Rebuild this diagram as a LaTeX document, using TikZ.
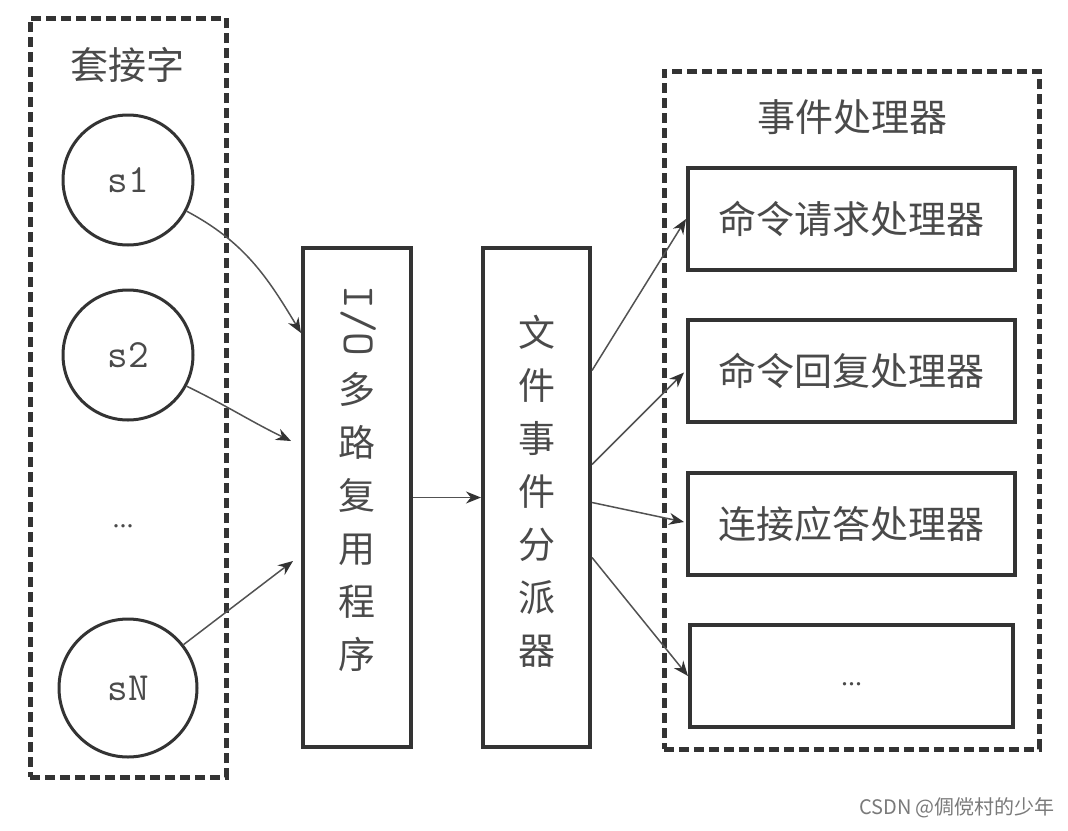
\documentclass[tikz,border=0pt]{standalone}
\usepackage{fontspec}
\setmainfont{Liberation Serif}
\newfontfamily\cjk{Noto Sans CJK SC}
\usetikzlibrary{arrows.meta,calc}
\definecolor{ink}{HTML}{333333}
\definecolor{txt}{HTML}{4A4A4A}
\definecolor{wmgray}{HTML}{7A7A7A}
\begin{document}
\begin{tikzpicture}[x=1pt,y=-1pt,
  dashbox/.style={draw=ink, line width=5pt, dash pattern=on 10pt off 5pt, rectangle, inner sep=0pt},
  solidbox/.style={draw=ink, line width=4pt, rectangle, inner sep=0pt, fill=white},
  sock/.style={draw=ink, line width=3pt, circle, inner sep=0pt, font=\ttfamily\fontsize{40}{40}\selectfont, text=txt},
  conn/.style={draw=ink!85, line width=1.5pt, -{Stealth[length=15pt,width=12pt,color=ink]}},
  cjktext/.style={font=\cjk\fontsize{38}{38}\selectfont, text=txt},
  vtext/.style={font=\cjk\fontsize{37}{53}\selectfont, text=txt, align=center, inner sep=0pt},
  dots/.style={font=\fontsize{28}{28}\selectfont, text=txt, inner sep=0pt},
]
\useasboundingbox[fill=white] (0,0) rectangle (1068,830);

% group boxes
\node[dashbox, minimum width=196pt, minimum height=759pt] (sockets) at (128,397.5) {};
\node[dashbox, minimum width=375pt, minimum height=678pt] (handlers) at (851.5,410) {};
\node[cjktext] (socktitle) at (127,65) {套接字};
\node[cjktext] (handtitle) at (852,117) {事件处理器};

% sockets
\node[sock, minimum size=130pt] (s1) at (128,180) {s1};
\node[sock, minimum size=130pt] (s2) at (128,355) {s2};
\node[dots] (sdots) at (123,526) {...};
\node[sock, minimum size=138pt] (sN) at (128,688) {sN};

% I/O multiplexer
\node[solidbox, minimum width=108pt, minimum height=499pt] (io) at (357,497.5) {};
\node[rotate=-90, font=\ttfamily\fontsize{46}{46}\selectfont, text=txt, inner sep=0pt] (iolbl) at (359,321) {I/O};
\node[vtext] (iotxt) at (357,521.5) {多\\路\\复\\用\\程\\序};

% dispatcher
\node[solidbox, minimum width=107pt, minimum height=499pt] (disp) at (536.5,497.5) {};
\node[vtext] (disptxt) at (536.5,491) {文\\件\\事\\件\\分\\派\\器};

% handlers
\node[solidbox, cjktext, minimum width=327pt, minimum height=102pt] (h1) at (851.5,219) {命令请求处理器};
\node[solidbox, cjktext, minimum width=327pt, minimum height=102pt] (h2) at (851.5,370.5) {命令回复处理器};
\node[solidbox, cjktext, minimum width=327pt, minimum height=102pt] (h3) at (851.5,524) {连接应答处理器};
\node[solidbox, minimum width=323pt, minimum height=102pt] (h4) at (851.5,676) {};
\node[dots] (hdots) at (851.5,684) {...};

% connectors
\draw[conn] (s1.-28) to[out=-28,in=121] ([yshift=-87pt]io.north west);
\draw[conn] (s2.-28) to[out=-26,in=154] ([xshift=-10pt,yshift=-195pt]io.north west);
\draw[conn] (sN.38) -- ([xshift=-8pt,yshift=-315pt]io.north west);
\draw[conn] (io.east) -- (disp.west);
\draw[conn] ([yshift=127pt]disp.east) -- (h1.west);
\draw[conn] ([yshift=33pt]disp.east) -- ([xshift=-2pt,yshift=-2pt]h2.west);
\draw[conn] ([yshift=-5pt]disp.east) -- ([xshift=-2pt,yshift=2pt]h3.west);
\draw[conn] ([yshift=-60pt]disp.east) -- (h4.west);

% watermark
\node[font=\cjk\fontsize{20}{20}\selectfont, text=wmgray] (wm) at (957,808) {CSDN @倜傥村的少年};
\end{tikzpicture}
\end{document}
